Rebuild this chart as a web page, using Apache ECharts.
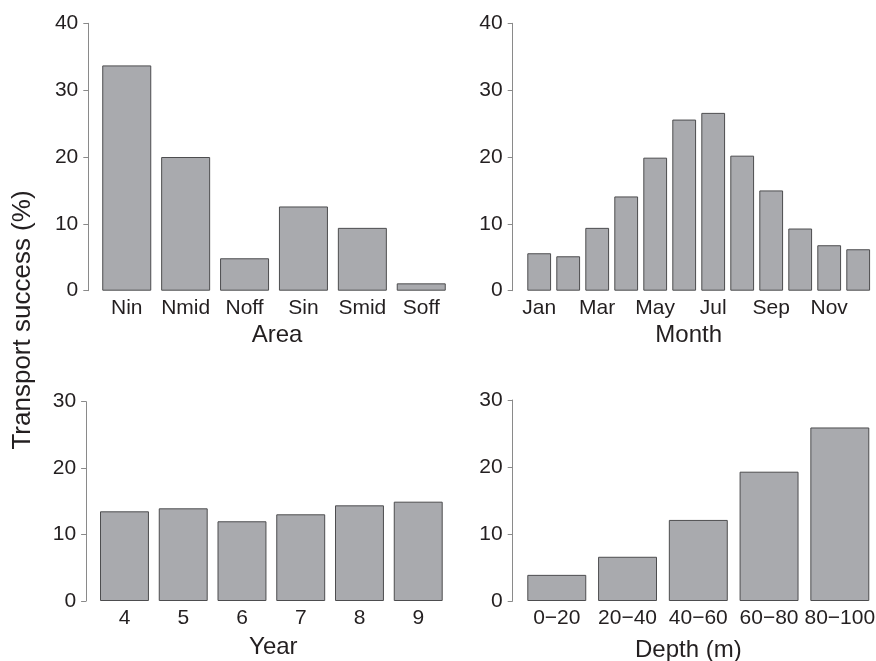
<!DOCTYPE html>
<html>
<head>
<meta charset="utf-8">
<script src="https://cdn.jsdelivr.net/npm/echarts@6/dist/echarts.min.js"></script>
<style>html,body{margin:0;padding:0;background:#fff}#c{width:876px;height:661px}</style>
</head>
<body>
<div id="c"></div>
<script>
const areaCats = ['Nin','Nmid','Noff','Sin','Smid','Soff'];
const areaVals = [33.7, 20.0, 4.85, 12.6, 9.4, 1.1];
const monthCats = ['Jan','Feb','Mar','Apr','May','Jun','Jul','Aug','Sep','Oct','Nov','Dec'];
const monthVals = [5.6, 5.15, 9.4, 14.1, 19.9, 25.6, 26.6, 20.2, 15.0, 9.3, 6.8, 6.2];
const yearCats = ['4','5','6','7','8','9'];
const yearVals = [13.5, 13.95, 12.0, 13.05, 14.4, 14.95];
const depthCats = ['0\u221220','20\u221240','40\u221260','60\u221280','80\u2212100'];
const depthVals = [3.9, 6.6, 12.1, 19.3, 25.9];
const topTicks = [0, 10, 20, 30, 40];
const bottomTicks = [0, 10, 20, 30];
const yTitle = 'Transport success (%)';
const xTitles = ['Area', 'Month', 'Year', 'Depth (m)'];

const FONT = 'Liberation Sans, Arial, Helvetica, sans-serif';
const TXT = '#231f20';
const AX = '#8a8a8a';

const grids = [
  {left: 97.3, top: 23.3, width: 353.4, height: 267.4, outerBoundsMode: 'none', containLabel: false},
  {left: 524.7, top: 23.3, width: 348, height: 267.4, outerBoundsMode: 'none', containLabel: false},
  {left: 95.1, top: 401.7, width: 352.5, height: 199.3, outerBoundsMode: 'none', containLabel: false},
  {left: 521.4, top: 400, width: 353.8, height: 201, outerBoundsMode: 'none', containLabel: false}
];
const offsets = [9, 12, 9, 8.7];
const gaps = ['16.8%', '18%', '16.7%', '16.7%'];
const nameGaps = [33, 33, 34, 37];
const namePads = [[0, 0, 0, 6], [0, 20, 0, 0], [0, 0, 0, 4], [0, 20, 0, 0]];
const cats = [areaCats, monthCats, yearCats, depthCats];
const vals = [areaVals, monthVals, yearVals, depthVals];
const ticks = [topTicks, topTicks, bottomTicks, bottomTicks];

const xAxes = cats.map((c, i) => ({
  type: 'category', gridIndex: i, data: c,
  axisLine: {show: false}, axisTick: {show: false},
  axisLabel: {color: TXT, fontSize: 21, fontFamily: FONT, margin: 7, interval: i === 1 ? 1 : 0, hideOverlap: false},
  name: xTitles[i], nameLocation: 'middle', nameGap: nameGaps[i],
  nameTextStyle: {color: TXT, fontSize: 24, fontFamily: FONT, padding: namePads[i]}
}));
const yAxes = ticks.map((t, i) => ({
  type: 'value', gridIndex: i, min: t[0], max: t[t.length - 1], interval: 10,
  offset: offsets[i],
  axisLine: {show: true, lineStyle: {color: AX, width: 1}},
  axisTick: {show: true, length: 5, lineStyle: {color: AX, width: 1}},
  splitLine: {show: false},
  axisLabel: {color: TXT, fontSize: 21, fontFamily: FONT, margin: 10}
}));
const series = vals.map((v, i) => ({
  type: 'bar', xAxisIndex: i, yAxisIndex: i, data: v,
  barCategoryGap: gaps[i],
  itemStyle: {color: '#a9aaae', borderColor: '#4d4d4f', borderWidth: 1},
  emphasis: {disabled: true}, silent: true
}));

const chart = echarts.init(document.getElementById('c'), null, {renderer: 'canvas'});
chart.setOption({
  animation: false,
  backgroundColor: '#fff',
  grid: grids,
  xAxis: xAxes,
  yAxis: yAxes,
  series: series,
  graphic: [{
    type: 'text', x: 23, y: 320, rotation: Math.PI / 2,
    style: {text: yTitle, fill: TXT, font: '26px ' + FONT, textAlign: 'center', textVerticalAlign: 'middle'}
  }]
});
</script>
</body>
</html>
